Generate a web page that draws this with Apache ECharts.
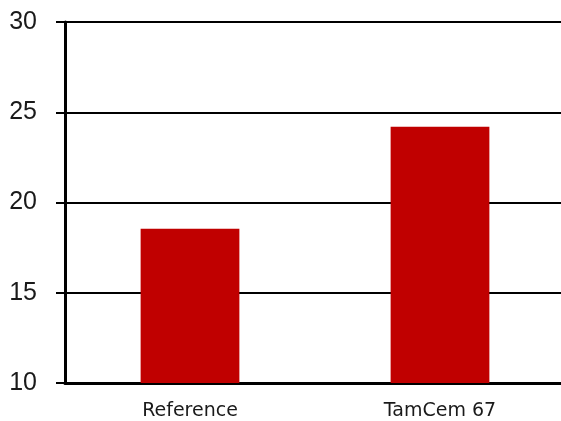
<!DOCTYPE html>
<html>
<head>
<meta charset="utf-8">
<script src="https://cdn.jsdelivr.net/npm/echarts@6/dist/echarts.min.js"></script>
<style>html,body{margin:0;padding:0;background:#fff;overflow:hidden}#c{width:565px;height:421px}</style>
</head>
<body>
<div id="c"></div>
<script>
var categories = ["Reference", "TamCem 67"];
var values = [18.55, 24.2];
var yMin = 10, yMax = 30, yStep = 5;

var chart = echarts.init(document.getElementById('c'), null, {renderer: 'canvas'});
chart.setOption({
  animation: false,
  grid: {left: 65, right: 0, top: 22, bottom: 38},
  xAxis: {
    type: 'category',
    data: categories,
    axisLine: {lineStyle: {color: '#000', width: 3}},
    axisTick: {show: false},
    axisLabel: {color: '#1a1a1a', fontFamily: 'DejaVu Sans', fontSize: 19, margin: 19}
  },
  yAxis: {
    type: 'value',
    min: yMin, max: yMax, interval: yStep,
    axisLine: {show: true, lineStyle: {color: '#000', width: 3}},
    axisTick: {show: true, length: 9, lineStyle: {color: '#000', width: 2}},
    axisLabel: {color: '#1a1a1a', fontFamily: 'Liberation Sans', fontSize: 25, margin: 28},
    splitLine: {lineStyle: {color: '#000', width: 2}}
  },
  series: [{
    type: 'bar',
    data: values,
    barWidth: '39.5%',
    itemStyle: {color: '#C00000'}
  }]
});
</script>
</body>
</html>
